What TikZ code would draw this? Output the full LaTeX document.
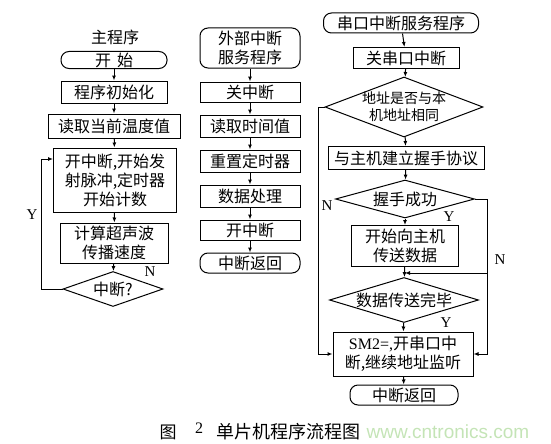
\documentclass[tikz,border=0pt]{standalone}
\usepackage{fontspec}
\setmainfont{Liberation Serif}
\newfontfamily\cjk{Noto Sans CJK SC}
\newfontfamily\webfont{Liberation Sans}
\usetikzlibrary{shapes.geometric,arrows.meta}
\definecolor{webgreen}{RGB}{196,228,182}

\begin{document}
\begin{tikzpicture}[x=1pt,y=-1pt,line width=1pt]
\tikzstyle{every node}+=[inner sep=0pt,align=center,font=\cjk\fontsize{16}{19}\selectfont]
\tikzstyle{box}=[draw,rectangle]
\tikzstyle{term}=[draw,rectangle,rounded corners=8pt]
\tikzstyle{decide}=[draw,diamond]
\tikzstyle{flow}=[-{Latex[length=5pt,width=4pt]}]
\tikzstyle{yn}=[font=\rmfamily\fontsize{15}{15}\selectfont]
\useasboundingbox (0,0) rectangle (551,444);
% main program
\node (maintitle) at (115,37) {主程序};
\node[term,minimum width=106,minimum height=17] (start) at (114,60) {开\hspace{6pt}始};
\node[box,minimum width=106,minimum height=22] (init) at (114,92) {程序初始化};
\node[box,minimum width=132,minimum height=24] (readtemp) at (114,126) {读取当前温度值};
\node[box,minimum width=123,minimum height=64] (pulse) at (115,180) {开中断,开始发\\射脉冲,定时器\\开始计数};
\node[box,minimum width=108,minimum height=40] (calc) at (114,243) {计算超声波\\传播速度};
\node[decide,minimum width=100,minimum height=35,label={center:中断?}] (isint) at (113,289) {};
\draw[flow] (start) -- (init);
\draw[flow] (init) -- (readtemp);
\draw[flow] (readtemp) -- (pulse);
\draw[flow] (pulse) -- (calc);
\draw[flow] (calc) -- (isint);
\draw[flow] (isint.west) -- ++(-21,0) |- ([yshift=21pt]pulse.west);
\node[yn] (ylab) at (32,215) {Y};
\node[yn] (nlab) at (150,272) {N};
% external interrupt
\node[term,minimum width=100,minimum height=40] (ext) at (250,48) {外部中断\\服务程序};
\node[box,minimum width=100,minimum height=20] (intoff) at (250,92) {关中断};
\node[box,minimum width=100,minimum height=22] (readtime) at (250,126) {读取时间值};
\node[box,minimum width=100,minimum height=22] (reset) at (250,161) {重置定时器};
\node[box,minimum width=100,minimum height=22] (proc) at (250,196) {数据处理};
\node[box,minimum width=100,minimum height=20] (inton) at (250,230) {开中断};
\node[term,minimum width=100,minimum height=20] (extret) at (250,263) {中断返回};
\draw[flow] (ext) -- (intoff);
\draw[flow] (intoff) -- (readtime);
\draw[flow] (readtime) -- (reset);
\draw[flow] (reset) -- (proc);
\draw[flow] (proc) -- (inton);
\draw[flow] (inton) -- (extret);
% serial interrupt
\node[term,minimum width=155,minimum height=20] (serial) at (401,23) {串口中断服务程序};
\node[box,minimum width=106,minimum height=21] (seroff) at (406,58) {关串口中断};
\node[decide,minimum width=158,minimum height=60,
  label={[font=\cjk\fontsize{14}{17}\selectfont]center:{地址是否与本\\机地址相同}}] (addr) at (404,107) {};
\node[box,minimum width=156,minimum height=23] (hand) at (406,158) {与主机建立握手协议};
\node[decide,minimum width=139,minimum height=38,label={center:握手成功}] (handok) at (405,199) {};
\node[box,minimum width=107,minimum height=41] (send) at (405,246) {开始向主机\\传送数据};
\node[decide,minimum width=149,minimum height=45,label={center:数据传送完毕}] (done) at (404,300) {};
\node[box,minimum width=140,minimum height=44] (sm2) at (403,354) {{\rmfamily SM2=,}开串口中\\断,继续地址监听};
\node[term,minimum width=108,minimum height=20] (serret) at (404,395) {中断返回};
\draw[flow] (serial) -- (seroff);
\draw[flow] (seroff) -- (addr);
\draw[flow] (addr) -- (hand);
\draw[flow] (hand) -- (handok);
\draw[flow] (handok) -- (send);
\draw[flow] (send) -- (done);
\draw[flow] (done) -- (sm2);
\draw[flow] (sm2) -- (serret);
\draw[flow] (addr.west) -- ++(-6,0) |- (sm2.west);
\draw[flow] (handok.east) -- ++(12,0) |- (sm2.east);
\coordinate (back) at (487,273);
\draw[flow] (back) -- (send.south |- back);
\node[yn] (nleft) at (327,206) {N};
\node[yn] (yok) at (449,217) {Y};
\node[yn] (nright) at (500,260) {N};
\node[yn] (ydone) at (446,323) {Y};
% caption
\node[font=\cjk\fontsize{17}{17}\selectfont] (fig) at (168,432) {图};
\node[font=\rmfamily\fontsize{16}{16}\selectfont] (fignum) at (199,428) {2};
\node[font=\cjk\fontsize{18}{18}\selectfont] (figtitle) at (288,432) {单片机程序流程图};
\node[font=\webfont\fontsize{19}{19}\selectfont,text=webgreen] (web) at (448,432) {www.cntronics.com};
\end{tikzpicture}
\end{document}
